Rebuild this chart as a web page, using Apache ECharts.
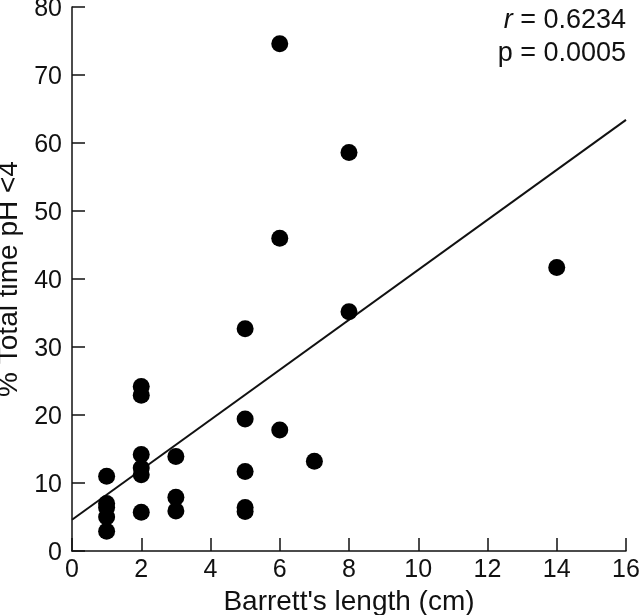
<!DOCTYPE html>
<html>
<head>
<meta charset="utf-8">
<script src="https://cdn.jsdelivr.net/npm/echarts@6/dist/echarts.min.js"></script>
<style>
  html, body { margin: 0; padding: 0; background: #fff; }
  #chart { width: 640px; height: 615px; }
</style>
</head>
<body>
<div id="chart"></div>
<script>
// Barrett's length (cm) and % time pH < 4, one entry per patient
const lengthCm = [1, 1, 1, 1, 1, 2, 2, 2, 2, 2, 2, 3, 3, 3, 5, 5, 5, 5, 5, 6, 6, 6, 7, 8, 8, 14];
const pctTime = [11.0, 7.0, 6.4, 5.0, 2.9, 24.2, 22.9, 14.2, 12.2, 11.2, 5.7, 13.9, 7.9, 5.9, 32.7, 19.4, 11.7, 6.4, 5.8, 74.6, 46.0, 17.8, 13.2, 58.6, 35.2, 41.7];

// fitted regression line end points
const fitX = [0, 16];
const fitY = [4.6, 63.4];

const xTicks = [0, 2, 4, 6, 8, 10, 12, 14, 16];
const yTicks = [0, 10, 20, 30, 40, 50, 60, 70, 80];

const points = lengthCm.map((x, i) => [x, pctTime[i]]);
const fitLine = fitX.map((x, i) => [x, fitY[i]]);

const font = 'Liberation Sans, Arial, sans-serif';

const option = {
    animation: false,
    backgroundColor: '#fff',
    grid: { left: 72, right: 14, top: 7, bottom: 64, outerBoundsMode: 'none' },
    xAxis: {
        type: 'value',
        min: xTicks[0],
        max: xTicks[xTicks.length - 1],
        interval: 2,
        name: "Barrett's length (cm)",
        nameLocation: 'middle',
        nameGap: 36,
        nameTextStyle: { fontFamily: font, fontSize: 28, color: '#111' },
        axisLine: { lineStyle: { color: '#111', width: 1.5 } },
        axisTick: { inside: true, length: 13, lineStyle: { color: '#111', width: 1.5 } },
        axisLabel: { fontFamily: font, fontSize: 25, color: '#111', margin: 7 },
        splitLine: { show: false }
    },
    yAxis: {
        type: 'value',
        min: yTicks[0],
        max: yTicks[yTicks.length - 1],
        interval: 10,
        name: '% Total time pH <4',
        nameLocation: 'middle',
        nameGap: 45,
        nameTextStyle: { fontFamily: font, fontSize: 28, color: '#111' },
        axisLine: { lineStyle: { color: '#111', width: 1.5 } },
        axisTick: { inside: true, length: 13, lineStyle: { color: '#111', width: 1.5 } },
        axisLabel: {
            margin: 10,
            formatter: '{a|{value}}',
            rich: { a: { fontFamily: font, fontSize: 25, color: '#111', padding: [5, 0, 0, 0] } }
        },
        splitLine: { show: false }
    },
    graphic: [
        {
            type: 'text',
            right: 14,
            top: 7,
            style: {
                text: '{i|r} = 0.6234',
                font: '27px ' + font,
                fill: '#111',
                rich: { i: { fontStyle: 'italic', fontSize: 27, fontFamily: font, fill: '#111' } }
            }
        },
        {
            type: 'text',
            right: 14,
            top: 40,
            style: { text: 'p = 0.0005', font: '27px ' + font, fill: '#111' }
        }
    ],
    series: [
        {
            type: 'line',
            data: fitLine,
            symbol: 'none',
            lineStyle: { color: '#111', width: 2 },
            z: 1
        },
        {
            type: 'scatter',
            data: points,
            symbol: 'circle',
            symbolSize: 17,
            itemStyle: { color: '#000', opacity: 1 },
            z: 2
        }
    ]
};

const chart = echarts.init(document.getElementById('chart'));
chart.setOption(option);
</script>
</body>
</html>
